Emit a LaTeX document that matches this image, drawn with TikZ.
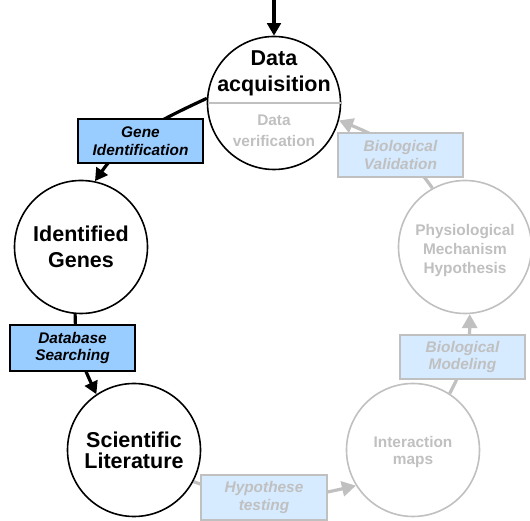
\documentclass[tikz,border=0pt]{standalone}
\usepackage{fontspec}
\setmainfont{Liberation Sans}
\usetikzlibrary{arrows.meta}
\definecolor{boxblue}{HTML}{99CCFF}
\definecolor{paleblue}{HTML}{D6EBFF}
\definecolor{lgray}{HTML}{C0C0C0}
\pgfdeclarelayer{background}
\pgfsetlayers{background,main}
\begin{document}
\begin{tikzpicture}[x=1pt,y=1pt,
  bigcirc/.style={circle,draw=black,line width=1.6pt,fill=white,minimum size=133pt,inner sep=0pt,align=center,font=\bfseries\fontsize{21.5}{26}\selectfont},
  graycirc/.style={circle,draw=lgray,line width=1.6pt,fill=white,minimum size=133pt,inner sep=0pt,align=center,text=lgray,font=\bfseries\fontsize{15.4}{19}\selectfont},
  actbox/.style={draw=black,line width=1.6pt,fill=boxblue,minimum width=125pt,minimum height=44pt,inner sep=0pt,align=center,font=\bfseries\itshape\fontsize{15.4}{17.5}\selectfont},
  grbox/.style={draw=lgray,line width=1.6pt,fill=paleblue,minimum width=125pt,minimum height=44pt,inner sep=0pt,align=center,text=lgray,font=\bfseries\itshape\fontsize{15.4}{17.5}\selectfont},
  blk/.style={line width=3.2pt,-{Triangle[length=12.5pt,width=13.5pt]}},
  gry/.style={draw=lgray,line width=3.2pt,-{Triangle[length=14pt,width=15pt]}}
]
\useasboundingbox (0,0) rectangle (530,521);
\coordinate (top) at (274,521);
% circles
\node[bigcirc] (da) at (274,418) {};
\node[font=\bfseries\fontsize{21.5}{26}\selectfont,align=center,inner sep=0pt] (dat) at (274,447.7) {Data\\acquisition};
\node[font=\bfseries\fontsize{15.4}{20.5}\selectfont,align=center,text=lgray,inner sep=0pt] (dvt) at (274,390.1) {Data\\verification};
\draw[lgray,line width=1.5pt,shorten <=0.8pt,shorten >=0.8pt] (da.west) -- (da.east);
\node[bigcirc] (ig) at (81,274) {Identified\\Genes};
\node[bigcirc,font=\bfseries\fontsize{21.5}{21}\selectfont] (sl) at (134,71) {Scientific\\Literature};
\node[graycirc,font=\bfseries\fontsize{15.4}{17}\selectfont] (im) at (413,71) {\rule{0pt}{15pt}Interaction\\maps};
\node[graycirc] (pm) at (465,274) {\rule{0pt}{17.5pt}Physiological\\Mechanism\\Hypothesis};
% boxes
\node[actbox] (gi) at (140.5,380) {Gene\\Identification};
\node[actbox,minimum height=46pt] (ds) at (72.5,173) {Database\\Searching};
\node[grbox] (bv) at (400.5,366) {Biological\\Validation};
\node[grbox] (bm) at (462.5,164) {Biological\\Modeling};
\node[grbox,minimum width=126pt,minimum height=45pt] (ht) at (264,23.5) {Hypothese\\testing};
% connectors
\begin{pgfonlayer}{background}
\draw[blk,line width=3.5pt] (top) -- (da.north);
\draw[blk] (da.176) to[out=205,in=55] (ig.78);
\draw[blk] (ig.265) to[out=270,in=115] (sl.124);
\draw[gry] (sl.-28) to[out=-20,in=193] (im.212);
\draw[gry] (im.57) to[out=62,in=270] (pm.274);
\draw[gry] (pm.119) to[out=125,in=-22] (da.-15);
\end{pgfonlayer}
\end{tikzpicture}
\end{document}
